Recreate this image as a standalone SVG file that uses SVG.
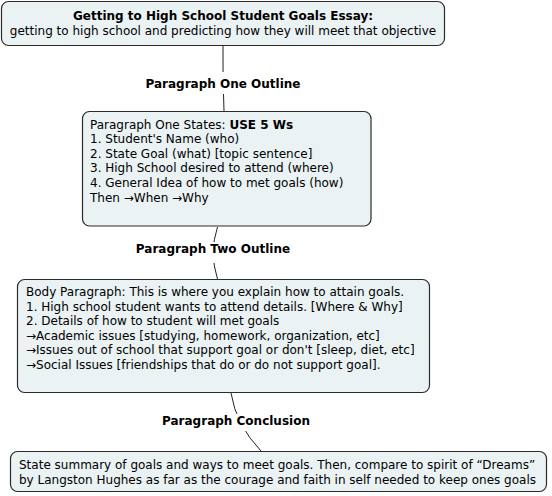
<svg xmlns="http://www.w3.org/2000/svg" width="552" height="496" viewBox="0 0 552 496">
  <style>
    .box { fill: #EAF2F4; stroke: #2b2b2b; stroke-width: 1.2; }
    .t { font-family: "DejaVu Sans", Verdana, sans-serif; font-size: 12px; fill: #000; }
    .b { font-weight: bold; }
    .lbl { font-family: "DejaVu Sans", Verdana, sans-serif; font-size: 12px; font-weight: bold; fill: #000; text-anchor: middle; }
    .conn { fill: none; stroke: #222; stroke-width: 1; }
    .bg { fill: #fff; }
  </style>
  <rect width="552" height="496" fill="#fff"/>
  <g id="connectors">
    <path class="conn" d="M223,46 Q222.6,78 224,111"/>
    <path class="conn" d="M217.5,227 Q209,252.5 217.5,279"/>
    <path class="conn" d="M231,393 Q236,425 261,451"/>
    <g id="label-one">
      <rect class="bg" x="145" y="72" width="156" height="22"/>
      <text class="lbl" x="223" y="87.5">Paragraph One Outline</text>
    </g>
    <g id="label-two">
      <rect class="bg" x="134" y="242" width="158" height="21"/>
      <text class="lbl" x="213" y="252.5">Paragraph Two Outline</text>
    </g>
    <g id="label-conclusion">
      <rect class="bg" x="160" y="414" width="152" height="17"/>
      <text class="lbl" x="236" y="424.5">Paragraph Conclusion</text>
    </g>
  </g>
  <g id="node-title">
    <rect class="box" x="1.5" y="1.5" width="443" height="44" rx="7"/>
    <text class="t b" x="223" y="20" text-anchor="middle">Getting to High School Student Goals Essay:</text>
    <text class="t" x="223" y="34.5" text-anchor="middle">getting to high school and predicting how they will meet that objective</text>
  </g>
  <g id="node-paragraph-one">
    <rect class="box" x="82.5" y="111.5" width="288.5" height="114.5" rx="7"/>
    <text class="t" x="90" y="128.5">Paragraph One States: <tspan class="b">USE 5 Ws</tspan></text>
    <text class="t" x="90" y="143.1">1. Student's Name (who)</text>
    <text class="t" x="90" y="157.7">2. State Goal (what) [topic sentence]</text>
    <text class="t" x="90" y="172.3">3. High School desired to attend (where)</text>
    <text class="t" x="90" y="186.9">4. General Idea of how to met goals (how)</text>
    <text class="t" x="90" y="201.5">Then →When →Why</text>
  </g>
  <g id="node-paragraph-two">
    <rect class="box" x="17.5" y="279.5" width="412" height="113" rx="7"/>
    <text class="t" x="26" y="296">Body Paragraph: This is where you explain how to attain goals.</text>
    <text class="t" x="26" y="310.6">1. High school student wants to attend details. [Where &amp; Why]</text>
    <text class="t" x="26" y="325.2">2. Details of how to student will met goals</text>
    <text class="t" x="26" y="339.8">→Academic issues [studying, homework, organization, etc]</text>
    <text class="t" x="26" y="354.4">→Issues out of school that support goal or don't [sleep, diet, etc]</text>
    <text class="t" x="26" y="369">→Social Issues [friendships that do or do not support goal].</text>
  </g>
  <g id="node-conclusion">
    <rect class="box" x="10.5" y="451.5" width="536" height="40" rx="7"/>
    <text class="t" x="19" y="469">State summary of goals and ways to meet goals. Then, compare to spirit of “Dreams”</text>
    <text class="t" x="19" y="483.5">by Langston Hughes as far as the courage and faith in self needed to keep ones goals</text>
  </g>
</svg>
